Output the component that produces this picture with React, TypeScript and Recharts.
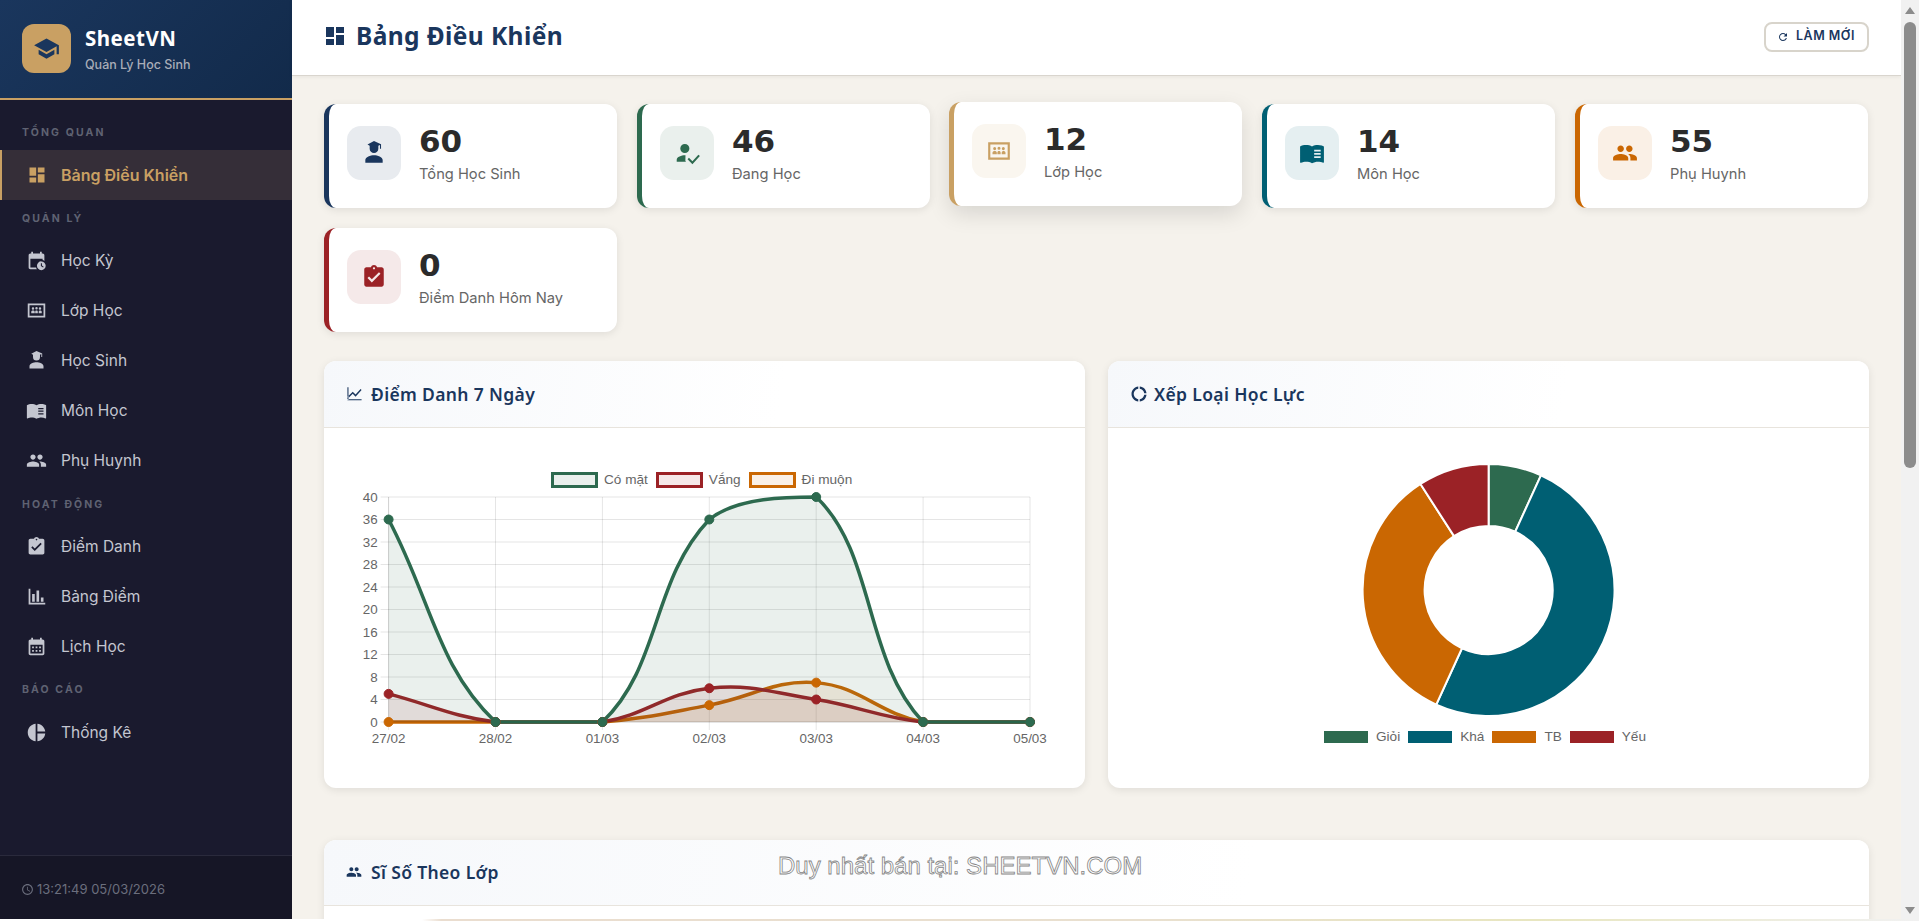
import { Area, AreaChart, CartesianGrid, Cell, Legend, Pie, PieChart, XAxis, YAxis } from "recharts";

const DATES = ["27/02", "28/02", "01/03", "02/03", "03/03", "04/03", "05/03"];
const PRESENT = [36, 0, 0, 36, 40, 0, 0];
const ABSENT = [5, 0, 0, 6, 4, 0, 0];
const LATE = [0, 0, 0, 3, 7, 0, 0];
const Y_TICKS = [0, 4, 8, 12, 16, 20, 24, 28, 32, 36, 40];

const GRADE_LABELS = ["Giỏi", "Khá", "TB", "Yếu"];
const GRADE_VALUES = [3, 22, 15, 4];

const NAVY = "#1a365d";
const GREEN = "#2d6a4f";
const GOLD = "#c9a063";
const TEAL = "#005f73";
const ORANGE = "#ca6702";
const RED = "#9b2226";
const GRADE_COLORS = [GREEN, TEAL, ORANGE, RED];

const UI = "Inter, sans-serif";
const HEAD = "'Noto Sans', sans-serif";
const NUM = "'DejaVu Sans', sans-serif";
const CHART_FONT = "'Liberation Sans', Arial, sans-serif";

// material icon paths
const I = {
  dash: "M3 13h8V3H3v10zm0 8h8v-6H3v6zm10 0h8V11h-8v10zm0-18v6h8V3h-8z",
  school: "M5 13.18v4L12 21l7-3.82v-4L12 17l-7-3.82zM12 3 1 9l11 6 9-4.91V17h2V9L12 3z",
  people: "M16 11c1.66 0 2.99-1.34 2.99-3S17.66 5 16 5c-1.66 0-3 1.34-3 3s1.34 3 3 3zm-8 0c1.66 0 2.99-1.34 2.99-3S9.66 5 8 5C6.34 5 5 6.34 5 8s1.34 3 3 3zm0 2c-2.33 0-7 1.17-7 3.5V19h14v-2.5c0-2.33-4.67-3.5-7-3.5zm8 0c-.29 0-.62.02-.97.05 1.16.84 1.97 1.97 1.97 3.45V19h6v-2.5c0-2.33-4.67-3.5-7-3.5z",
  check: "M19 3h-4.18C14.4 1.84 13.3 1 12 1c-1.3 0-2.4.84-2.82 2H5c-1.1 0-2 .9-2 2v14c0 1.1.9 2 2 2h14c1.1 0 2-.9 2-2V5c0-1.1-.9-2-2-2zm-7 0c.55 0 1 .45 1 1s-.45 1-1 1-1-.45-1-1 .45-1 1-1zm-2 14l-4-4 1.41-1.41L10 14.17l6.59-6.59L18 9l-8 8z",
  bars: "M3 3h2v16h17v2H3zM7 9h3v9H7zm5-4h3v13h-3zm5 8h3v5h-3z",
  cal: "M19 4h-1V2h-2v2H8V2H6v2H5c-1.1 0-2 .9-2 2v14c0 1.1.9 2 2 2h14c1.1 0 2-.9 2-2V6c0-1.1-.9-2-2-2zm0 16H5V10h14v10zM7 12h2v2H7zm4 0h2v2h-2zm4 0h2v2h-2zm-8 4h2v2H7zm4 0h2v2h-2zm4 0h2v2h-2z",
  pie: "M11 2v20c-5.07-.5-9-4.79-9-10s3.93-9.5 9-10zm2.03 0v8.99H22c-.47-4.74-4.24-8.52-8.97-8.99zm0 11.01V22c4.74-.47 8.5-4.25 8.97-8.99h-8.97z",
  book: "M21 5c-1.11-.35-2.33-.5-3.5-.5-1.95 0-4.05.4-5.5 1.5-1.45-1.1-3.55-1.5-5.5-1.5S2.45 4.9 1 6v14.65c0 .25.25.5.5.5.1 0 .15-.05.25-.05C3.1 20.45 5.05 20 6.5 20c1.95 0 4.05.4 5.5 1.5 1.35-.85 3.8-1.5 5.5-1.5 1.65 0 3.35.3 4.75 1.05.1.05.15.05.25.05.25 0 .5-.25.5-.5V6c-.6-.45-1.25-.75-2-1zM14 9h6v1.5h-6zm0 3h6v1.5h-6zm0 3h6v1.5h-6z",
  student: "M12 1 6 4.2l2 1.1V8a4 4 0 0 0 8 0V5.3l1.5-.8V8h1V4zM12 14c-3.3 0-8 1.6-8 4.5V21h16v-2.5c0-2.9-4.7-4.5-8-4.5z",
  person: "M10 12a4.2 4.2 0 1 0 0-8.4 4.2 4.2 0 0 0 0 8.4zm0 2c-3 0-7.5 1.4-7.5 4.2V20h8.7l-.7-.7.1-5.2zM22.5 13.5 17 19.6l-3.2-3.2-1.3 1.3 4.5 4.6 6.9-7.6z",
  board: "M22 4H2v16h20V4zm-2 14H4V6h16v12zM8 11.2a1.4 1.4 0 1 0 0-2.8 1.4 1.4 0 0 0 0 2.8zm8 0a1.4 1.4 0 1 0 0-2.8 1.4 1.4 0 0 0 0 2.8zM12 10.8a1.4 1.4 0 1 0 0-2.8 1.4 1.4 0 0 0 0 2.8zM6 15v-1.5c0-1 1-1.6 2-1.6s2 .6 2 1.6V15zm4.5 0v-1.5c0-1 .5-1.6 1.5-1.6s1.5.6 1.5 1.6V15zm4 0v-1.5c0-1 1-1.6 1.5-1.6 1 0 2 .6 2 1.6V15z",
  term: "M19 4h-1V2h-2v2H8V2H6v2H5c-1.1 0-2 .9-2 2v14c0 1.1.9 2 2 2h7.5a6 6 0 0 1-1-2H5V10h14v1.5a6 6 0 0 1 2 1V6c0-1.1-.9-2-2-2zM17.5 13a5 5 0 1 0 0 10 5 5 0 0 0 0-10zm2 7-2.5-1.6V15h1.2v2.8l2 1.2z",
  line: "M3.5 18.49l6-6.01 4 4L22 6.92l-1.41-1.41-7.09 7.97-4-4L2 16.99zM2 20h20v1.5H2zM2 3h1.5v18H2z",
  donut: "M11 5.08V2c-5 .5-9 4.81-9 10s4 9.5 9 10v-3.08c-3-.48-6-3.4-6-6.92s3-6.44 6-6.92zM18.97 11H22c-.47-5-4-8.53-9-9v3.08C16 5.51 18.54 8 18.97 11zM13 18.92V22c5-.47 8.53-4 9-9h-3.03c-.43 3-2.97 5.49-5.97 5.92z",
  refresh: "M17.65 6.35C16.2 4.9 14.21 4 12 4c-4.42 0-7.99 3.58-7.99 8s3.57 8 7.99 8c3.73 0 6.84-2.55 7.73-6h-2.08c-.82 2.33-3.04 4-5.65 4-3.31 0-6-2.69-6-6s2.69-6 6-6c1.66 0 3.14.69 4.22 1.78L13 11h7V4l-2.35 2.35z",
  clock: "M11.99 2C6.47 2 2 6.48 2 12s4.47 10 9.99 10C17.52 22 22 17.52 22 12S17.52 2 11.99 2zM12 20c-4.42 0-8-3.58-8-8s3.58-8 8-8 8 3.58 8 8-3.58 8-8 8zm.5-13H11v6l5.25 3.15.75-1.23-4.5-2.67z",
};

const SIDE_LABELS: Array<[string, number]> = [
  ["TỔNG QUAN", 133],
  ["QUẢN LÝ", 219],
  ["HOẠT ĐỘNG", 505],
  ["BÁO CÁO", 690],
];
const SIDE_ITEMS: Array<[string, number, string]> = [
  ["Học Kỳ", 261, I.term],
  ["Lớp Học", 311, I.board],
  ["Học Sinh", 361, I.student],
  ["Môn Học", 411, I.book],
  ["Phụ Huynh", 461, I.people],
  ["Điểm Danh", 547, I.check],
  ["Bảng Điểm", 597, I.bars],
  ["Lịch Học", 647, I.cal],
  ["Thống Kê", 733, I.pie],
];
const STATS: Array<[string, string, string, string, string, number, number]> = [
  ["60", "Tổng Học Sinh", NAVY, "#e8ebef", I.student, 324, 104],
  ["46", "Đang Học", GREEN, "#eaf0ed", I.person, 637, 104],
  ["12", "Lớp Học", GOLD, "#faf6ef", I.board, 949, 102],
  ["14", "Môn Học", TEAL, "#e5eff1", I.book, 1262, 104],
  ["55", "Phụ Huynh", ORANGE, "#faf0e6", I.people, 1575, 104],
  ["0", "Điểm Danh Hôm Nay", RED, "#f5e9e9", I.check, 324, 228],
];

const CHART_W = 720;
const CHART_H = 300;
const Y_AXIS_W = 40;
const LEGEND_H = 16;
// plot edges inside the svg, used to cap the curve's control points
const PLOT = { left: 48.6, right: 690, top: 27, bottom: 252 };
// the legend is placed by hand but recharts still reserves its height at the bottom
const M = { top: PLOT.top, right: CHART_W - PLOT.right, bottom: 18 - LEGEND_H, left: PLOT.left - Y_AXIS_W };

// same spline as chart.js with tension .4, control points capped to the plot area
function splineCurve(context: any) {
  const clamp = (v: number, a: number, b: number) => Math.max(a, Math.min(b, v));
  let pts: Array<[number, number]> = [];
  let line = NaN;
  return {
    areaStart() {
      line = 0;
    },
    areaEnd() {
      line = NaN;
    },
    lineStart() {
      pts = [];
    },
    point(x: number, y: number) {
      pts.push([+x, +y]);
    },
    lineEnd() {
      const n = pts.length;
      const ctrl = pts.map((p, i) => {
        const a = pts[i - 1] || p;
        const b = pts[i + 1] || p;
        const d01 = Math.hypot(p[0] - a[0], p[1] - a[1]);
        const d12 = Math.hypot(b[0] - p[0], b[1] - p[1]);
        const sum = d01 + d12 || 1;
        const fa = (0.4 * d01) / sum;
        const fb = (0.4 * d12) / sum;
        return [
          clamp(p[0] - fa * (b[0] - a[0]), PLOT.left, PLOT.right),
          clamp(p[1] - fa * (b[1] - a[1]), PLOT.top, PLOT.bottom),
          clamp(p[0] + fb * (b[0] - a[0]), PLOT.left, PLOT.right),
          clamp(p[1] + fb * (b[1] - a[1]), PLOT.top, PLOT.bottom),
        ];
      });
      pts.forEach((p, i) => {
        if (i === 0) {
          if (line) context.lineTo(p[0], p[1]);
          else context.moveTo(p[0], p[1]);
        } else {
          const c0 = ctrl[i - 1];
          const c1 = ctrl[i];
          context.bezierCurveTo(c0[2], c0[3], c1[0], c1[1], p[0], p[1]);
        }
      });
      if (line || (line !== 0 && n === 1)) context.closePath();
      line = 1 - line;
    },
  };
}

function T({ x, cy, size, weight = 400, color, font = UI, spacing = 0, children }: any) {
  return (
    <div
      style={{
        position: "absolute",
        left: x,
        top: cy - 20,
        height: 40,
        lineHeight: "40px",
        fontSize: size,
        fontWeight: weight,
        fontFamily: font,
        color,
        letterSpacing: spacing,
        whiteSpace: "nowrap",
      }}
    >
      {children}
    </div>
  );
}

function Ico({ x, y, s, d, c }: any) {
  return (
    <svg style={{ position: "absolute", left: x, top: y }} width={s} height={s} viewBox="0 0 24 24">
      <path d={d} fill={c} fillRule="evenodd" />
    </svg>
  );
}

function Box({ x, y, w, h, style }: any) {
  return <div style={{ position: "absolute", left: x, top: y, width: w, height: h, boxSizing: "border-box", ...style }} />;
}

const CARD_SHADOW = "0 2px 8px rgba(0,0,0,.09)";

function Panel({ x, y, w, h, head, title, icon }: any) {
  return (
    <>
      <Box x={x} y={y} w={w} h={h} style={{ background: "#fff", borderRadius: 12, boxShadow: CARD_SHADOW }} />
      <Box
        x={x}
        y={y}
        w={w}
        h={head}
        style={{
          background: "linear-gradient(100deg,#f6f8fb,#ffffff 60%)",
          borderRadius: "12px 12px 0 0",
          borderBottom: "1px solid #e8e4dd",
        }}
      />
      <Ico x={x + icon.dx} y={y + 24} s={icon.s} d={icon.d} c={NAVY} />
      <T x={x + icon.tx} cy={y + head / 2 - 1} size={17.5} weight={600} color={NAVY} font={HEAD} spacing={0.35}>
        {title}
      </T>
    </>
  );
}

const lineData = DATES.map((date, i) => ({ date, present: PRESENT[i], absent: ABSENT[i], late: LATE[i] }));
const gradeData = GRADE_LABELS.map((name, i) => ({ name, value: GRADE_VALUES[i] }));
const LINE_SERIES: Array<[string, string, string, string]> = [
  ["Có mặt", "present", GREEN, "#eaf0ed"],
  ["Vắng", "absent", RED, "#f5e9e9"],
  ["Đi muộn", "late", ORANGE, "#faf0e6"],
];

const lineLegend = () => (
  <div style={{ display: "flex", fontFamily: CHART_FONT, fontSize: 13.6, color: "#666", lineHeight: "16px" }}>
    {LINE_SERIES.map(([name, , color, tint]) => (
      <div key={name} style={{ display: "flex", marginRight: 8 }}>
        <div style={{ width: 47, height: LEGEND_H, boxSizing: "border-box", border: `3px solid ${color}`, background: tint, marginRight: 6 }} />
        {name}
      </div>
    ))}
  </div>
);

const gradeLegend = () => (
  <div style={{ display: "flex", fontFamily: CHART_FONT, fontSize: 13.6, color: "#666", lineHeight: "12px" }}>
    {GRADE_LABELS.map((name, i) => (
      <div key={name} style={{ display: "flex", marginRight: 8 }}>
        <div style={{ width: 44, height: 12, background: GRADE_COLORS[i], marginRight: 8 }} />
        {name}
      </div>
    ))}
  </div>
);

export default function App() {
  const axisTick = { fontSize: 13.4, fill: "#666", fontFamily: CHART_FONT };
  const gridLine = "rgba(0,0,0,0.1)";
  return (
    <div style={{ position: "absolute", left: 0, top: 0, width: 1919, height: 921, overflow: "hidden", background: "#f5f2ec" }}>
      {/* sidebar */}
      <Box x={0} y={0} w={292} h={921} style={{ background: "#1a1a2e" }} />
      <Box x={0} y={0} w={292} h={100} style={{ background: `linear-gradient(135deg,#1a365d,#122a4a)`, borderBottom: `2px solid ${GOLD}` }} />
      <Box x={22} y={24} w={49} h={49} style={{ background: GOLD, borderRadius: 12 }} />
      <Ico x={33} y={35} s={27} d={I.school} c={NAVY} />
      <T x={85} cy={38} size={20.5} weight={700} color="#fff" font={HEAD} spacing={0.5}>SheetVN</T>
      <T x={85} cy={65} size={12.5} weight={500} color="#a9adb8">Quản Lý Học Sinh</T>
      {SIDE_LABELS.map(([label, cy]) => (
        <T key={label} x={22} cy={cy} size={10.5} weight={700} color="#5f6272" spacing={2.1}>{label}</T>
      ))}
      <Box x={0} y={150} w={292} h={50} style={{ background: "#352e38", borderLeft: `2px solid ${GOLD}` }} />
      <Ico x={27} y={165} s={20} d={I.dash} c={GOLD} />
      <T x={61} cy={175} size={16} weight={600} color={GOLD}>Bảng Điều Khiển</T>
      {SIDE_ITEMS.map(([label, cy, d]) => (
        <div key={label}>
          <Ico x={26} y={cy - 11} s={21} d={d} c="#c4c6d0" />
          <T x={61} cy={cy} size={15.5} color="#c4c6d0">{label}</T>
        </div>
      ))}
      <Box x={0} y={855} w={292} h={66} style={{ background: "#161626", borderTop: "1px solid #2a2a3c" }} />
      <Ico x={21} y={883} s={13} d={I.clock} c="#6b6e7d" />
      <T x={37} cy={889} size={13} color="#6b6e7d">13:21:49 05/03/2026</T>

      {/* header */}
      <Box x={292} y={0} w={1609} h={76} style={{ background: "#fff", borderBottom: "1px solid #d9d5ce", boxShadow: "0 1px 4px rgba(0,0,0,.06)" }} />
      <Ico x={323} y={24} s={24} d={I.dash} c={NAVY} />
      <T x={356} cy={36} size={24.5} weight={700} color={NAVY} font={HEAD} spacing={0.4}>Bảng Điều Khiển</T>
      <Box x={1764} y={22} w={105} h={30} style={{ background: "#fff", border: "2px solid #d8d4cb", borderRadius: 8 }} />
      <Ico x={1777} y={31} s={12} d={I.refresh} c={NAVY} />
      <T x={1796} cy={36} size={12.5} weight={600} color={NAVY} spacing={0.5}>LÀM MỚI</T>

      {/* stat cards */}
      {STATS.map(([value, label, color, tint, d, x, y]) => (
        <div key={label}>
          <Box
            x={x}
            y={y}
            w={293}
            h={104}
            style={{
              background: "#fff",
              borderRadius: 12,
              borderLeft: `5px solid ${color}`,
              boxShadow: label === "Lớp Học" ? "0 8px 22px rgba(0,0,0,.12)" : CARD_SHADOW,
            }}
          />
          <Box x={x + 23} y={y + 22} w={54} h={54} style={{ background: tint, borderRadius: 14 }} />
          <Ico x={x + 37} y={y + 36} s={26} d={d} c={color} />
          <T x={x + 95} cy={y + 37} size={31} weight={700} color="#2b2b2b" font={NUM}>{value}</T>
          <T x={x + 95} cy={y + 70} size={14.7} color="#666">{label}</T>
        </div>
      ))}

      <Panel x={324} y={361} w={760.5} h={427} head={67} title="Điểm Danh 7 Ngày" icon={{ dx: 22, s: 17, d: I.line, tx: 47 }} />
      <Panel x={1108} y={361} w={761} h={427} head={67} title="Xếp Loại Học Lực" icon={{ dx: 22, s: 18, d: I.donut, tx: 46 }} />
      <Panel x={324} y={840} w={1545} h={100} head={66} title="Sĩ Số Theo Lớp" icon={{ dx: 22, s: 16, d: I.people, tx: 47 }} />

      {/* attendance chart */}
      <div style={{ position: "absolute", left: 340, top: 470 }}>
        <AreaChart width={CHART_W} height={CHART_H} data={lineData} margin={M}>
          <CartesianGrid stroke={gridLine} />
          <XAxis
            dataKey="date"
            tick={axisTick}
            tickLine={{ stroke: gridLine }}
            axisLine={{ stroke: gridLine }}
            tickSize={8}
            tickMargin={3}
            interval={0}
            height={30}
            padding={{ left: 0, right: 0 }}
          />
          <YAxis
            domain={[0, 40]}
            ticks={Y_TICKS}
            interval={0}
            tick={axisTick}
            tickLine={{ stroke: gridLine }}
            axisLine={{ stroke: gridLine }}
            tickSize={8}
            tickMargin={3}
            width={Y_AXIS_W}
          />
          <Legend
            content={lineLegend}
            wrapperStyle={{ position: "absolute", left: 211, top: 2, width: "auto", bottom: "auto" }}
          />
          {[...LINE_SERIES].reverse().map(([name, key, color]) => (
            <Area
              key={key}
              name={name}
              dataKey={key}
              type={splineCurve as any}
              stroke={color}
              strokeWidth={3.5}
              fill={color}
              fillOpacity={0.1}
              dot={{ r: 4.5, fill: color, stroke: color, strokeWidth: 1, fillOpacity: 1 }}
              activeDot={false}
              isAnimationActive={false}
            />
          ))}
        </AreaChart>
      </div>

      {/* grade donut */}
      <div style={{ position: "absolute", left: 1109, top: 440 }}>
        <PieChart width={760} height={330} margin={{ top: 0, right: 0, bottom: 0, left: 0 }}>
          <Pie
            data={gradeData}
            dataKey="value"
            nameKey="name"
            cx={379.6}
            cy={150}
            innerRadius={64}
            outerRadius={126}
            startAngle={90}
            endAngle={-270}
            stroke="#fff"
            strokeWidth={2}
            isAnimationActive={false}
          >
            {GRADE_LABELS.map((name, i) => (
              <Cell key={name} fill={GRADE_COLORS[i]} />
            ))}
          </Pie>
          <Legend
            content={gradeLegend}
            wrapperStyle={{ position: "absolute", left: 215, top: 291, width: "auto", bottom: "auto" }}
          />
        </PieChart>
      </div>

      {/* scrollbar, bottom strip, watermark */}
      <Box x={1901} y={0} w={18} h={921} style={{ background: "#f1f1f1" }} />
      <Box x={1904} y={22} w={12} h={446} style={{ background: "#8c8c8c", borderRadius: 6 }} />
      <svg style={{ position: "absolute", left: 1901, top: 0 }} width={18} height={921}>
        <path d="M9 7l5 7H4zM9 914l5-7H4z" fill="#8c8c8c" />
      </svg>
      <Box x={0} y={919} w={1919} h={2} style={{ background: "linear-gradient(90deg,#ffffff 0,#ffffff 22%,#eaddcf 23%,#e9e0cf 60%,#e8e6c0 80%,#f1f1f1 100%)" }} />
      <T x={778} cy={866} size={24} color="rgba(255,255,255,.6)" font={CHART_FONT}>
        <span style={{ WebkitTextStroke: "0.8px #858585" }}>Duy nhất bán tại: SHEETVN.COM</span>
      </T>
    </div>
  );
}
